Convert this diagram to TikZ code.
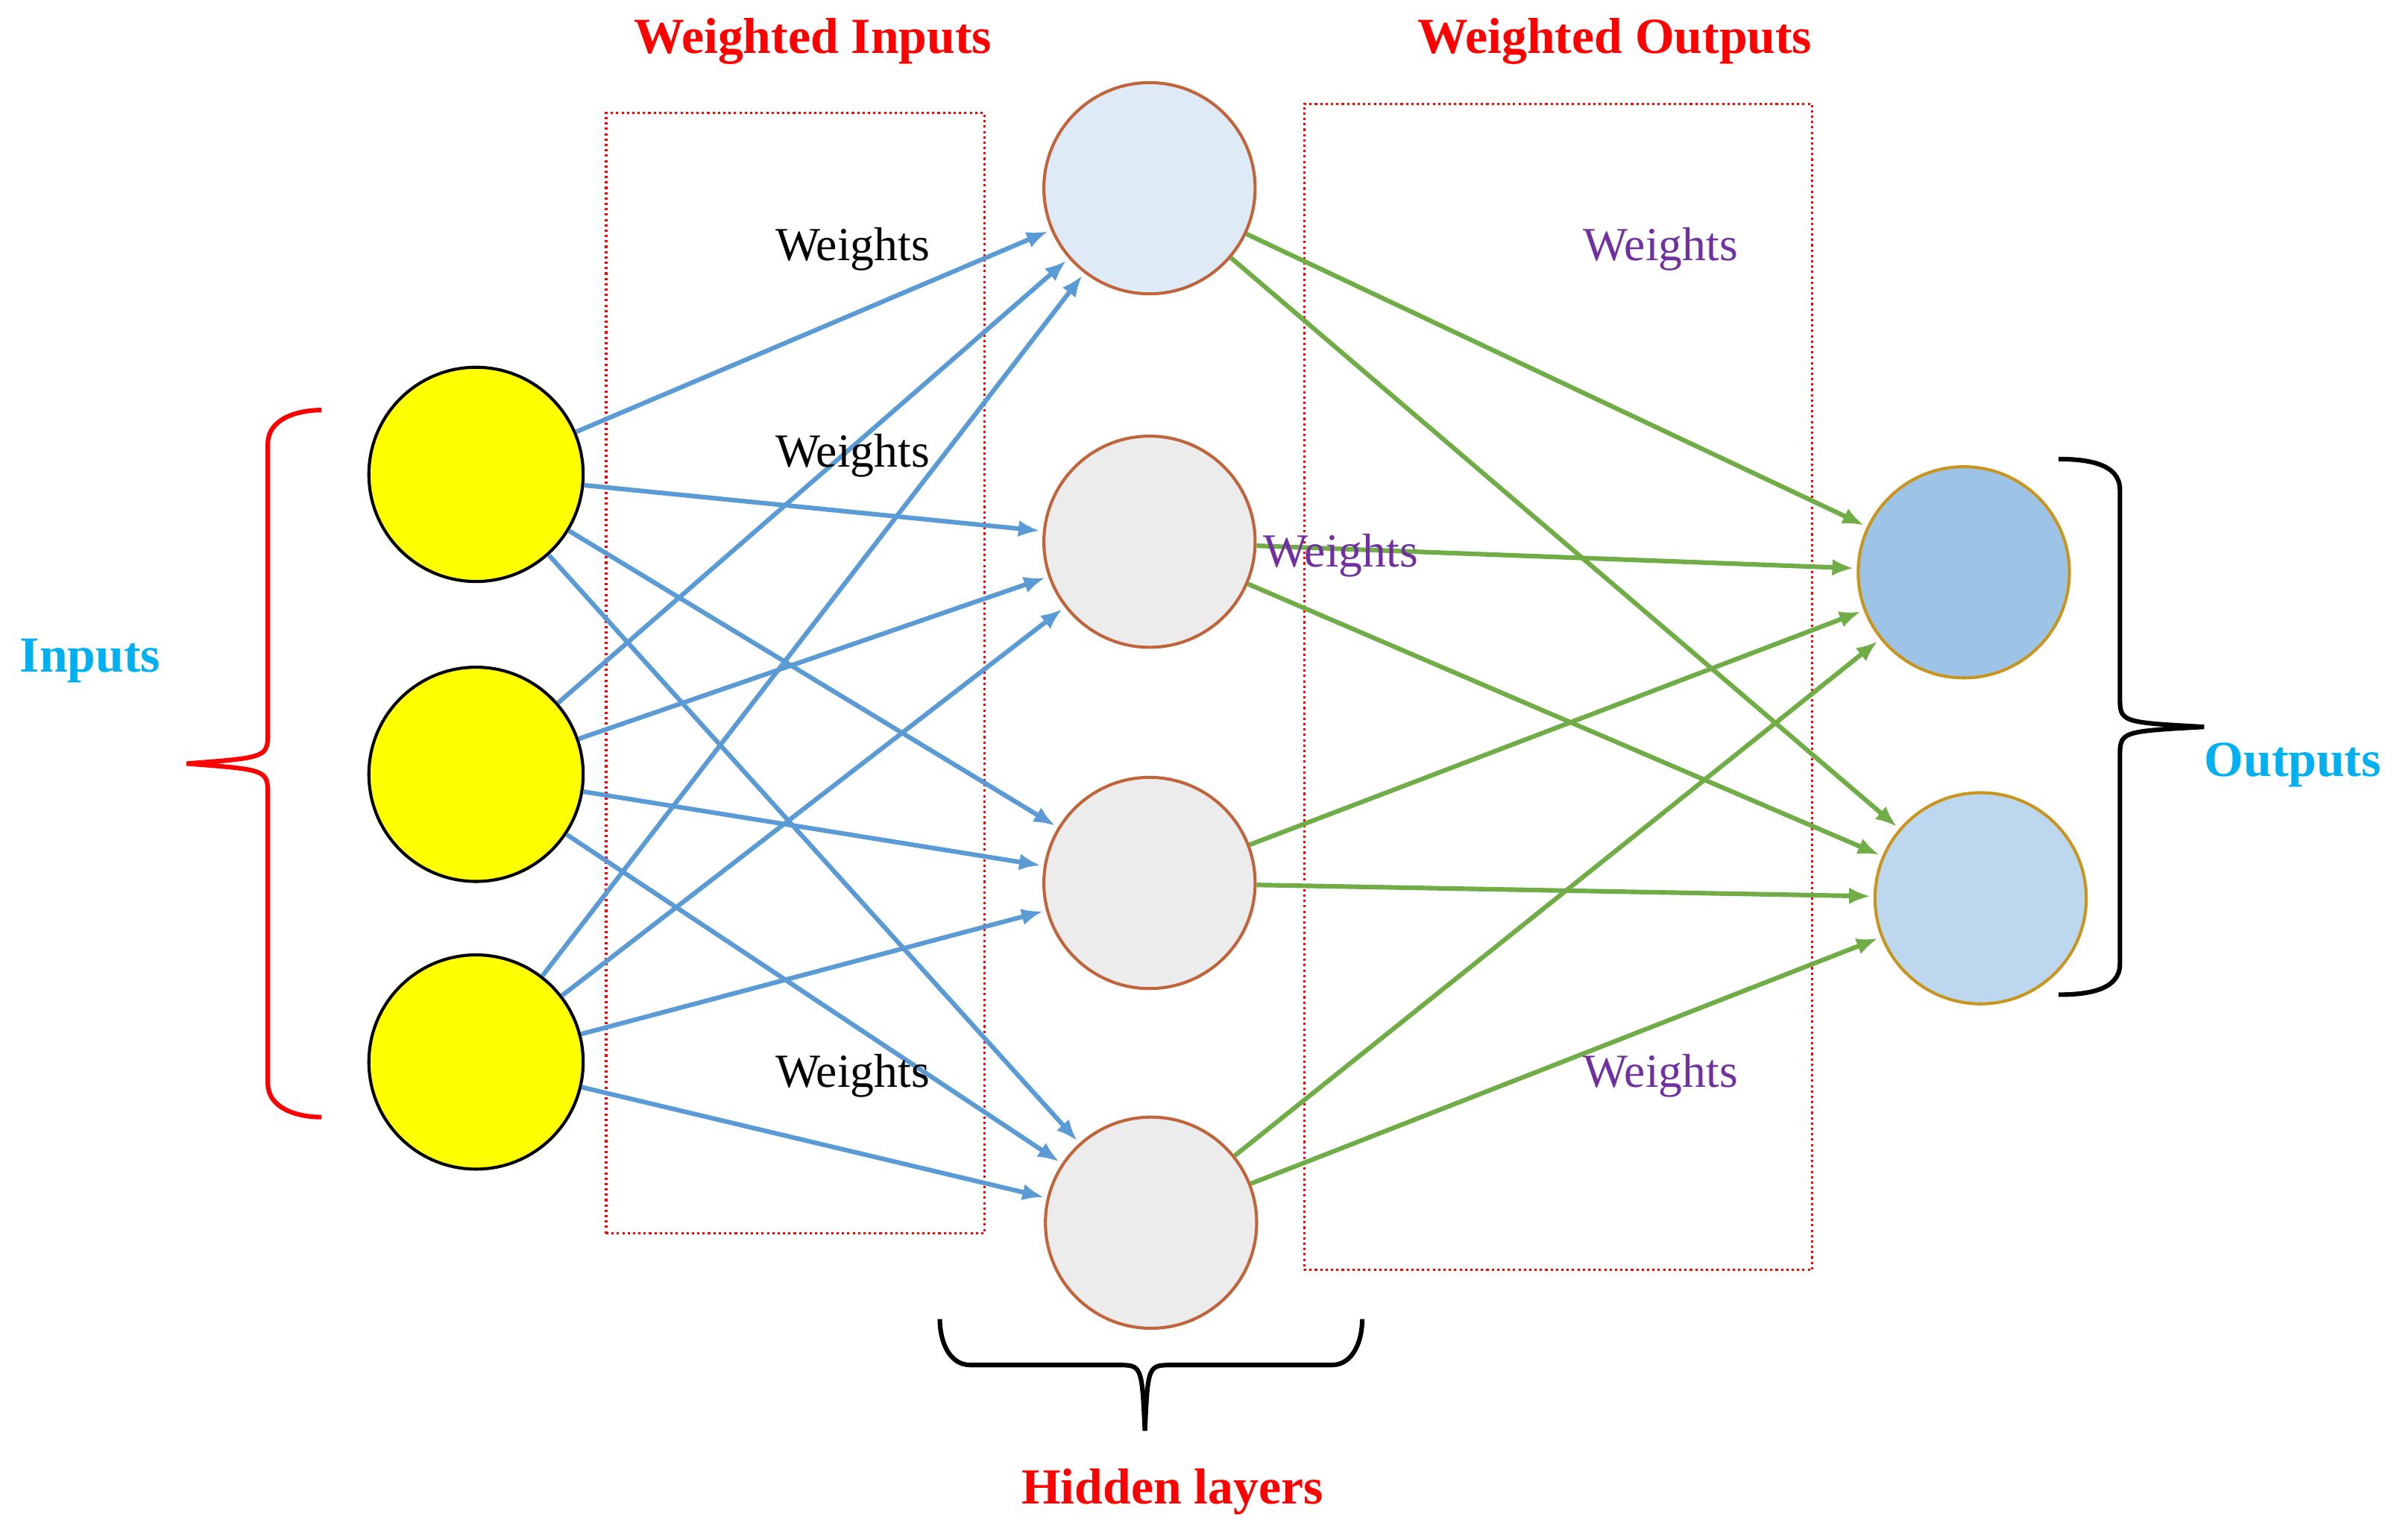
\documentclass[tikz,border=0pt]{standalone}
\usepackage{fontspec}
\setmainfont{Liberation Serif}
\usetikzlibrary{arrows.meta}
\begin{document}
\begin{tikzpicture}[x=1pt,y=-1pt,
 inp/.style={circle,draw=black,line width=2pt,fill={rgb,255:red,255;green,255;blue,0},minimum size=140pt,inner sep=0},
 hid/.style={circle,draw={rgb,255:red,192;green,100;blue,60},line width=2pt,fill=gray!15,minimum size=138pt,inner sep=0},
 outn/.style={circle,draw={rgb,255:red,200;green,150;blue,30},line width=2pt,minimum size=138pt,inner sep=0},
 ba/.style={color={rgb,255:red,91;green,155;blue,213},line width=3pt,-{Latex[length=14pt,width=11pt]},shorten >=2pt},
 ga/.style={color={rgb,255:red,112;green,173;blue,71},line width=3pt,-{Latex[length=14pt,width=11pt]},shorten >=2pt},
 box/.style={draw=red,dotted,line width=1.5pt},
 ttl/.style={text=red,font=\fontsize{33}{38}\selectfont\bfseries},
 wb/.style={font=\fontsize{31}{35}\selectfont},
 wp/.style={font=\fontsize{31}{35}\selectfont,text={rgb,255:red,112;green,48;blue,160}},
 cy/.style={text={rgb,255:red,0;green,176;blue,240},font=\fontsize{33}{38}\selectfont\bfseries}]
\useasboundingbox (0,0) rectangle (1568,1006);
\node[box,minimum width=247pt,minimum height=732pt] (b1) at (519.5,440) {};
\node[box,minimum width=332pt,minimum height=762pt] (b2) at (1018,449) {};
\node[inp] (I1) at (311,310) {};
\node[inp] (I2) at (311,506) {};
\node[inp] (I3) at (311,694) {};
\node[hid,fill={rgb,255:red,222;green,234;blue,246}] (H1) at (751,123) {};
\node[hid] (H2) at (751,354) {};
\node[hid] (H3) at (751,577) {};
\node[hid] (H4) at (752,799) {};
\node[outn,fill={rgb,255:red,157;green,195;blue,230}] (O1) at (1283,374) {};
\node[outn,fill={rgb,255:red,189;green,215;blue,238}] (O2) at (1294,587) {};
\foreach \i in {I1,I2,I3}{\foreach \h in {H1,H2,H3,H4}{\draw[ba] (\i) -- (\h);}}
\foreach \h in {H1,H2,H3,H4}{\foreach \o in {O1,O2}{\draw[ga] (\h) -- (\o);}}
\node[ttl] (t1) at (531,27) {Weighted Inputs};
\node[ttl] (t2) at (1055,27) {Weighted Outputs};
\node[ttl] (t3) at (766,975) {Hidden layers};
\node[cy] (t4) at (59,432) {Inputs};
\node[cy] (t5) at (1498,500) {Outputs};
\node[wb] (w1) at (557,163) {Weights};
\node[wb] (w2) at (557,298) {Weights};
\node[wb] (w3) at (557,703) {Weights};
\node[wp] (w4) at (1085,163) {Weights};
\node[wp] (w5) at (876,363) {Weights};
\node[wp] (w6) at (1085,703) {Weights};
\draw[red,line width=3pt] (210,268) to[out=180,in=90] (175,290) -- (175,478) .. controls (175,495) .. (122,499) .. controls (175,503) .. (175,520) -- (175,708) to[out=270,in=180] (210,730);
\draw[black,line width=3pt] (1345,300) to[out=0,in=90] (1385,320) -- (1385,455) .. controls (1385,472) .. (1440,475) .. controls (1385,478) .. (1385,495) -- (1385,630) to[out=270,in=0] (1345,650);
\draw[black,line width=3pt] (614,862) to[out=-90,in=180] (634,892) -- (730,892) .. controls (746,892) .. (748,935) .. controls (750,892) .. (766,892) -- (870,892) to[out=0,in=-90] (890,862);
\end{tikzpicture}
\end{document}
